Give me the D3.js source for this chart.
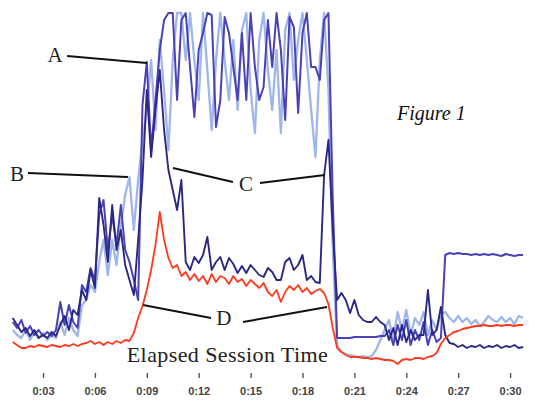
<!DOCTYPE html>
<meta charset="utf-8">
<style>
  body { margin: 0; background: #fff; }
</style>
<script src="https://d3js.org/d3.v7.min.js"></script>
<div id="chart"></div>
<script>
// Session time in minutes (one sample every quarter minute)
var minutes = [
  1.25, 1.5, 1.75, 2, 2.25, 2.5, 2.75, 3, 3.25, 3.5,
  3.75, 4, 4.25, 4.5, 4.75, 5, 5.25, 5.5, 5.75, 6,
  6.25, 6.5, 6.75, 7, 7.25, 7.5, 7.75, 8, 8.25, 8.5,
  8.75, 9, 9.25, 9.5, 9.75, 10, 10.25, 10.5, 10.75, 11,
  11.25, 11.5, 11.75, 12, 12.25, 12.5, 12.75, 13, 13.25, 13.5,
  13.75, 14, 14.25, 14.5, 14.75, 15, 15.25, 15.5, 15.75, 16,
  16.25, 16.5, 16.75, 17, 17.25, 17.5, 17.75, 18, 18.25, 18.5,
  18.75, 19, 19.25, 19.5, 19.75, 20, 20.25, 20.5, 20.75, 21,
  21.25, 21.5, 21.75, 22, 22.25, 22.5, 22.75, 23, 23.25, 23.5,
  23.75, 24, 24.25, 24.5, 24.75, 25, 25.25, 25.5, 25.75, 26,
  26.25, 26.5, 26.75, 27, 27.25, 27.5, 27.75, 28, 28.25, 28.5,
  28.75, 29, 29.25, 29.5, 29.75, 30, 30.25, 30.5, 30.75
];

// Signal level of each trace (arbitrary units)
var seriesA = [
  48, 42, 50, 37, 44, 35, 40, 34, 38, 34,
  40, 68, 45, 65, 48, 42, 85, 78, 102, 90,
  155, 170, 120, 155, 125, 165, 120, 108, 90, 70,
  265, 308, 220, 270, 320, 350, 357, 357, 270, 350,
  357, 303, 253, 320, 337, 357, 355, 243, 270, 353,
  337, 303, 270, 337, 270, 357, 303, 270, 283, 350,
  303, 357, 320, 250, 353, 343, 257, 337, 357, 303,
  303, 290, 350, 357, 170, 32, 32, 32, 32, 33,
  33, 33, 33, 33, 33, 34, 34, 40, 25, 45,
  30, 50, 25, 40, 30, 48, 25, 40, 28, 32,
  115, 117, 116, 117, 116, 116, 115, 116, 115, 116,
  115, 116, 115, 114, 116, 115, 114, 115, 115
];
var seriesB = [
  40, 35, 32, 40, 30, 38, 32, 37, 30, 35,
  32, 48, 35, 52, 40, 34, 65, 70, 85, 78,
  108, 130, 95, 130, 105, 145, 175, 193, 140, 190,
  230, 260, 310, 240, 330, 280, 220, 310, 357, 357,
  310, 357, 310, 270, 357, 300, 240, 310, 357, 310,
  270, 330, 260, 340, 357, 280, 237, 330, 357, 300,
  260, 320, 237, 340, 357, 290, 330, 357, 310, 260,
  213, 310, 357, 280, 120, 25, 18, 16, 15, 14,
  13, 14, 13, 14, 20, 30, 40, 50, 30, 58,
  40, 60, 35, 52, 45, 58, 35, 50, 40, 55,
  58, 52, 48, 54, 48, 52, 46, 50, 44, 48,
  54, 50, 48, 53, 48, 52, 46, 54, 52
];
var seriesC = [
  52, 45, 38, 42, 34, 40, 32, 35, 32, 38,
  34, 45, 54, 40, 60, 55, 80, 70, 100, 82,
  172, 145, 108, 165, 120, 140, 105, 90, 75, 130,
  190, 280, 213, 260, 300, 240, 200, 180, 160, 190,
  108, 100, 113, 107, 115, 133, 100, 108, 113, 100,
  112, 106, 97, 104, 97, 105, 100, 95, 93, 102,
  98, 90, 90, 108, 112, 100, 105, 115, 90, 94,
  88, 87, 195, 230, 140, 70, 77, 70, 57, 70,
  55, 50, 48, 48, 53, 48, 45, 30, 42, 25,
  45, 28, 40, 30, 35, 35, 80, 35, 40, 63,
  35, 27, 26, 23, 25, 22, 24, 23, 25, 22,
  24, 23, 25, 22, 24, 23, 25, 22, 23
];
var seriesD = [
  28, 25, 22, 22, 24, 23, 25, 24, 23, 25,
  24, 23, 25, 24, 26, 24, 26, 27, 29, 26,
  28, 25, 28, 26, 29, 27, 30, 29, 37, 52,
  64, 80, 100, 125, 158, 130, 112, 102, 105, 94,
  98, 90, 96, 89, 94, 86, 96, 88, 94, 92,
  86, 94, 88, 91, 84, 90, 86, 82, 87, 78,
  74, 80, 68, 78, 84, 80, 85, 78, 82, 76,
  79, 81, 77, 66, 42, 22, 18, 15, 13, 13,
  13, 12, 12, 11, 12, 11, 10, 10, 9, 6,
  10, 11, 10, 12, 12, 11, 13, 14, 17, 26,
  32, 35, 38, 39, 41, 42, 43, 44, 44, 45,
  44, 44, 45, 44, 45, 45, 44, 45, 45
];

var tickMinutes = [3, 6, 9, 12, 15, 18, 21, 24, 27, 30];
var tickLabels = ["0:03", "0:06", "0:09", "0:12", "0:15", "0:18", "0:21", "0:24", "0:27", "0:30"];

// Letter callouts: label spot and leader segments, in (minutes, level)
var callouts = [
  {name: "A", at: [3.7, 315], segs: [[[4.39, 314], [9.01, 307]]]},
  {name: "B", at: [1.5, 196], segs: [[[2.13, 197], [7.91, 193]]]},
  {name: "C", at: [14.73, 186], segs: [[[10.51, 202], [13.98, 188]], [[15.54, 187], [19.3, 195]]]},
  {name: "D", at: [13.46, 52], segs: [[[8.78, 65], [12.71, 52]], [[14.56, 48], [19.42, 63]]]}
];

var width = 535, height = 403;

var svg = d3.select("#chart")
  .append("svg")
    .attr("width", width)
    .attr("height", height);

var x = d3.scaleLinear().domain([0, 30]).range([-8.9, 510.1]);
var y = d3.scaleLinear().domain([0, 358]).range([370, 12]);

var traces = [
  {values: seriesB, color: "#9fb6ea", w: 2.3},
  {values: seriesA, color: "#4a42b4", w: 2},
  {values: seriesC, color: "#2b2784", w: 1.9},
  {values: seriesD, color: "#ff3a1c", w: 1.8}
];

var line = d3.line()
  .x(function(d, i) { return x(minutes[i]); })
  .y(function(d) { return y(d); });

svg.selectAll("path.trace")
  .data(traces)
  .enter()
  .append("path")
    .attr("class", "trace")
    .attr("d", function(d) { return line(d.values); })
    .attr("fill", "none")
    .attr("stroke", function(d) { return d.color; })
    .attr("stroke-width", function(d) { return d.w; })
    .attr("stroke-linejoin", "round");

// x axis: green base line fading out to the right
var grad = svg.append("defs").append("linearGradient")
  .attr("id", "axisFade");
grad.append("stop").attr("offset", "0%").attr("stop-color", "#2f8f5f");
grad.append("stop").attr("offset", "60%").attr("stop-color", "#6fb892");
grad.append("stop").attr("offset", "100%").attr("stop-color", "#e2f1e9");

var xAxis = svg.append("g")
  .attr("transform", "translate(0,371)")
  .call(d3.axisBottom(x)
    .tickValues(tickMinutes)
    .tickFormat(function(d, i) { return tickLabels[i]; })
    .tickSizeOuter(0)
    .tickSize(7)
    .tickPadding(9));

xAxis.select(".domain").remove();
xAxis.insert("line", ":first-child")
  .attr("x1", x(1.25)).attr("x2", x(28))
  .attr("stroke", "url(#axisFade)")
  .attr("stroke-width", 1.6);
xAxis.selectAll(".tick line")
  .attr("y1", 2)
  .attr("stroke", "#555")
  .attr("stroke-width", 1.4);
xAxis.selectAll(".tick text")
  .attr("fill", "#444")
  .style("font-family", "Liberation Sans, Arial, sans-serif")
  .style("font-size", "11px")
  .style("font-weight", "bold");

// axis title
svg.append("text")
  .attr("x", x(13.65))
  .attr("y", 362)
  .attr("text-anchor", "middle")
  .attr("textLength", 201)
  .attr("lengthAdjust", "spacing")
  .style("font-family", "Liberation Serif, Times New Roman, serif")
  .style("font-size", "22px")
  .attr("fill", "#222")
  .text("Elapsed Session Time");

// callouts
callouts.forEach(function(c) {
  c.segs.forEach(function(s) {
    svg.append("line")
      .attr("x1", x(s[0][0])).attr("y1", y(s[0][1]))
      .attr("x2", x(s[1][0])).attr("y2", y(s[1][1]))
      .attr("stroke", "#111")
      .attr("stroke-width", 2);
  });
  svg.append("text")
    .attr("x", x(c.at[0]))
    .attr("y", y(c.at[1]))
    .attr("dy", "0.35em")
    .attr("text-anchor", "middle")
    .style("font-family", "Liberation Serif, Times New Roman, serif")
    .style("font-size", "21px")
    .attr("fill", "#222")
    .text(c.name);
});

svg.append("text")
  .attr("x", 397)
  .attr("y", 120)
  .style("font-family", "Liberation Serif, Times New Roman, serif")
  .style("font-style", "italic")
  .style("font-size", "20px")
  .attr("fill", "#111")
  .text("Figure 1");
</script>
